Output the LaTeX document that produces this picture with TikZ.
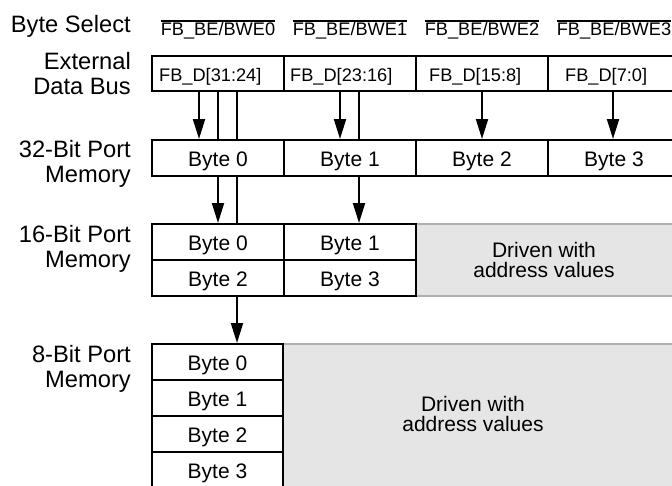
\documentclass[tikz,border=0pt]{standalone}
\usepackage{fontspec}
\setmainfont{Liberation Sans}
\usetikzlibrary{arrows.meta}
\definecolor{fillgray}{HTML}{E5E5E5}
\definecolor{edgegray}{HTML}{B0B0B0}
\newcommand\myovl[1]{\setbox0=\hbox{#1}\makebox[0pt][l]{\rule[13.5pt]{\wd0}{1.2pt}}\box0}
\begin{document}
\begin{tikzpicture}[x=1pt,y=-1pt,
  cell/.style={draw, line width=2pt, minimum width=132pt, minimum height=36pt, inner sep=0pt, text height=16pt, text depth=0pt, font=\fontsize{21}{22}\selectfont},
  buscell/.style={cell, minimum height=35pt},
  cell8/.style={cell, minimum width=131pt},
  side/.style={align=right, anchor=east, inner sep=0pt, font=\fontsize{23.7}{25}\selectfont},
  bus/.style={anchor=base west, inner sep=0pt, font=\fontsize{18.2}{20}\selectfont},
  sel/.style={anchor=base, inner sep=0pt, font=\fontsize{18.2}{20}\selectfont},
  grayreg/.style={fill=fillgray, draw=edgegray, line width=1.3pt, inner sep=0pt},
  note/.style={align=center, inner sep=0pt, font=\fontsize{21}{20.5}\selectfont},
  arr/.style={line width=2pt, -{Triangle[length=20pt,width=12pt]}},
  wire/.style={line width=2pt}]
\clip (0,0) rectangle (672,485);
\fill[white] (0,0) rectangle (672,485);

% left labels
\node[side, anchor=base east] (lsel) at (131,32) {Byte Select};
\node[side] (lext) at (131,74) {External\\Data Bus};
\node[side] (l32) at (131,163.5) {32-Bit Port\\Memory};
\node[side] (l16) at (131,249) {16-Bit Port\\Memory};
\node[side] (l8) at (131,369) {8-Bit Port\\Memory};

% byte select labels
\node[sel] (s0) at (218,35) {\myovl{FB\_BE/BWE0}};
\node[sel] (s1) at (350,35) {\myovl{FB\_BE/BWE1}};
\node[sel] (s2) at (482,35) {\myovl{FB\_BE/BWE2}};
\node[sel] (s3) at (614,35) {\myovl{FB\_BE/BWE3}};

% gray regions
\node[grayreg, minimum width=258pt, minimum height=72pt] (g16) at (545,260) {};
\node[grayreg, minimum width=392pt, minimum height=146pt] (g8) at (479,417) {};
\node[note] (t16) at (544,260) {Driven with\\address values};
\node[note] (t8) at (473,414) {Driven with\\address values};

% external data bus
\node[buscell] (e0) at (218,73.5) {};
\node[buscell] (e1) at (350,73.5) {};
\node[buscell] (e2) at (482,73.5) {};
\node[buscell] (e3) at (614,73.5) {};
\node[bus] (d0) at (159,81) {FB\_D[31:24]};
\node[bus] (d1) at (290,81) {FB\_D[23:16]};
\node[bus] (d2) at (429,81) {FB\_D[15:8]};
\node[bus] (d3) at (565,81) {FB\_D[7:0]};

% 32-bit
\node[cell] (m0) at (218,158) {Byte 0};
\node[cell] (m1) at (350,158) {Byte 1};
\node[cell] (m2) at (482,158) {Byte 2};
\node[cell] (m3) at (614,158) {Byte 3};

% 16-bit
\node[cell] (h0) at (218,242) {Byte 0};
\node[cell] (h1) at (350,242) {Byte 1};
\node[cell] (h2) at (218,278) {Byte 2};
\node[cell] (h3) at (350,278) {Byte 3};

% 8-bit
\node[cell8] (q0) at (217.5,362) {Byte 0};
\node[cell8] (q1) at (217.5,398) {Byte 1};
\node[cell8] (q2) at (217.5,434) {Byte 2};
\node[cell8] (q3) at (217.5,470) {Byte 3};

% x positions of connectors
\coordinate (xa) at (199,0);
\coordinate (xb) at (218,0);
\coordinate (xc) at (237,0);
\coordinate (xd) at (340,0);
\coordinate (xe) at (359,0);
\coordinate (xf) at (482,0);
\coordinate (xg) at (613,0);

% bus -> 32-bit
\draw[arr] (e0.south -| xa) -- (m0.north -| xa);
\draw[wire] (e0.south -| xb) -- (m0.north -| xb);
\draw[wire] (e0.south -| xc) -- (m0.north -| xc);
\draw[arr] (e1.south -| xd) -- (m1.north -| xd);
\draw[wire] (e1.south -| xe) -- (m1.north -| xe);
\draw[arr] (e2.south -| xf) -- (m2.north -| xf);
\draw[arr] (e3.south -| xg) -- (m3.north -| xg);

% 32-bit -> 16-bit
\draw[arr] (m0.south -| xb) -- (h0.north -| xb);
\draw[wire] (m0.south -| xc) -- (h0.north -| xc);
\draw[arr] (m1.south -| xe) -- (h1.north -| xe);

% 16-bit -> 8-bit
\draw[arr] (h2.south -| xc) -- (q0.north -| xc);
\end{tikzpicture}
\end{document}
